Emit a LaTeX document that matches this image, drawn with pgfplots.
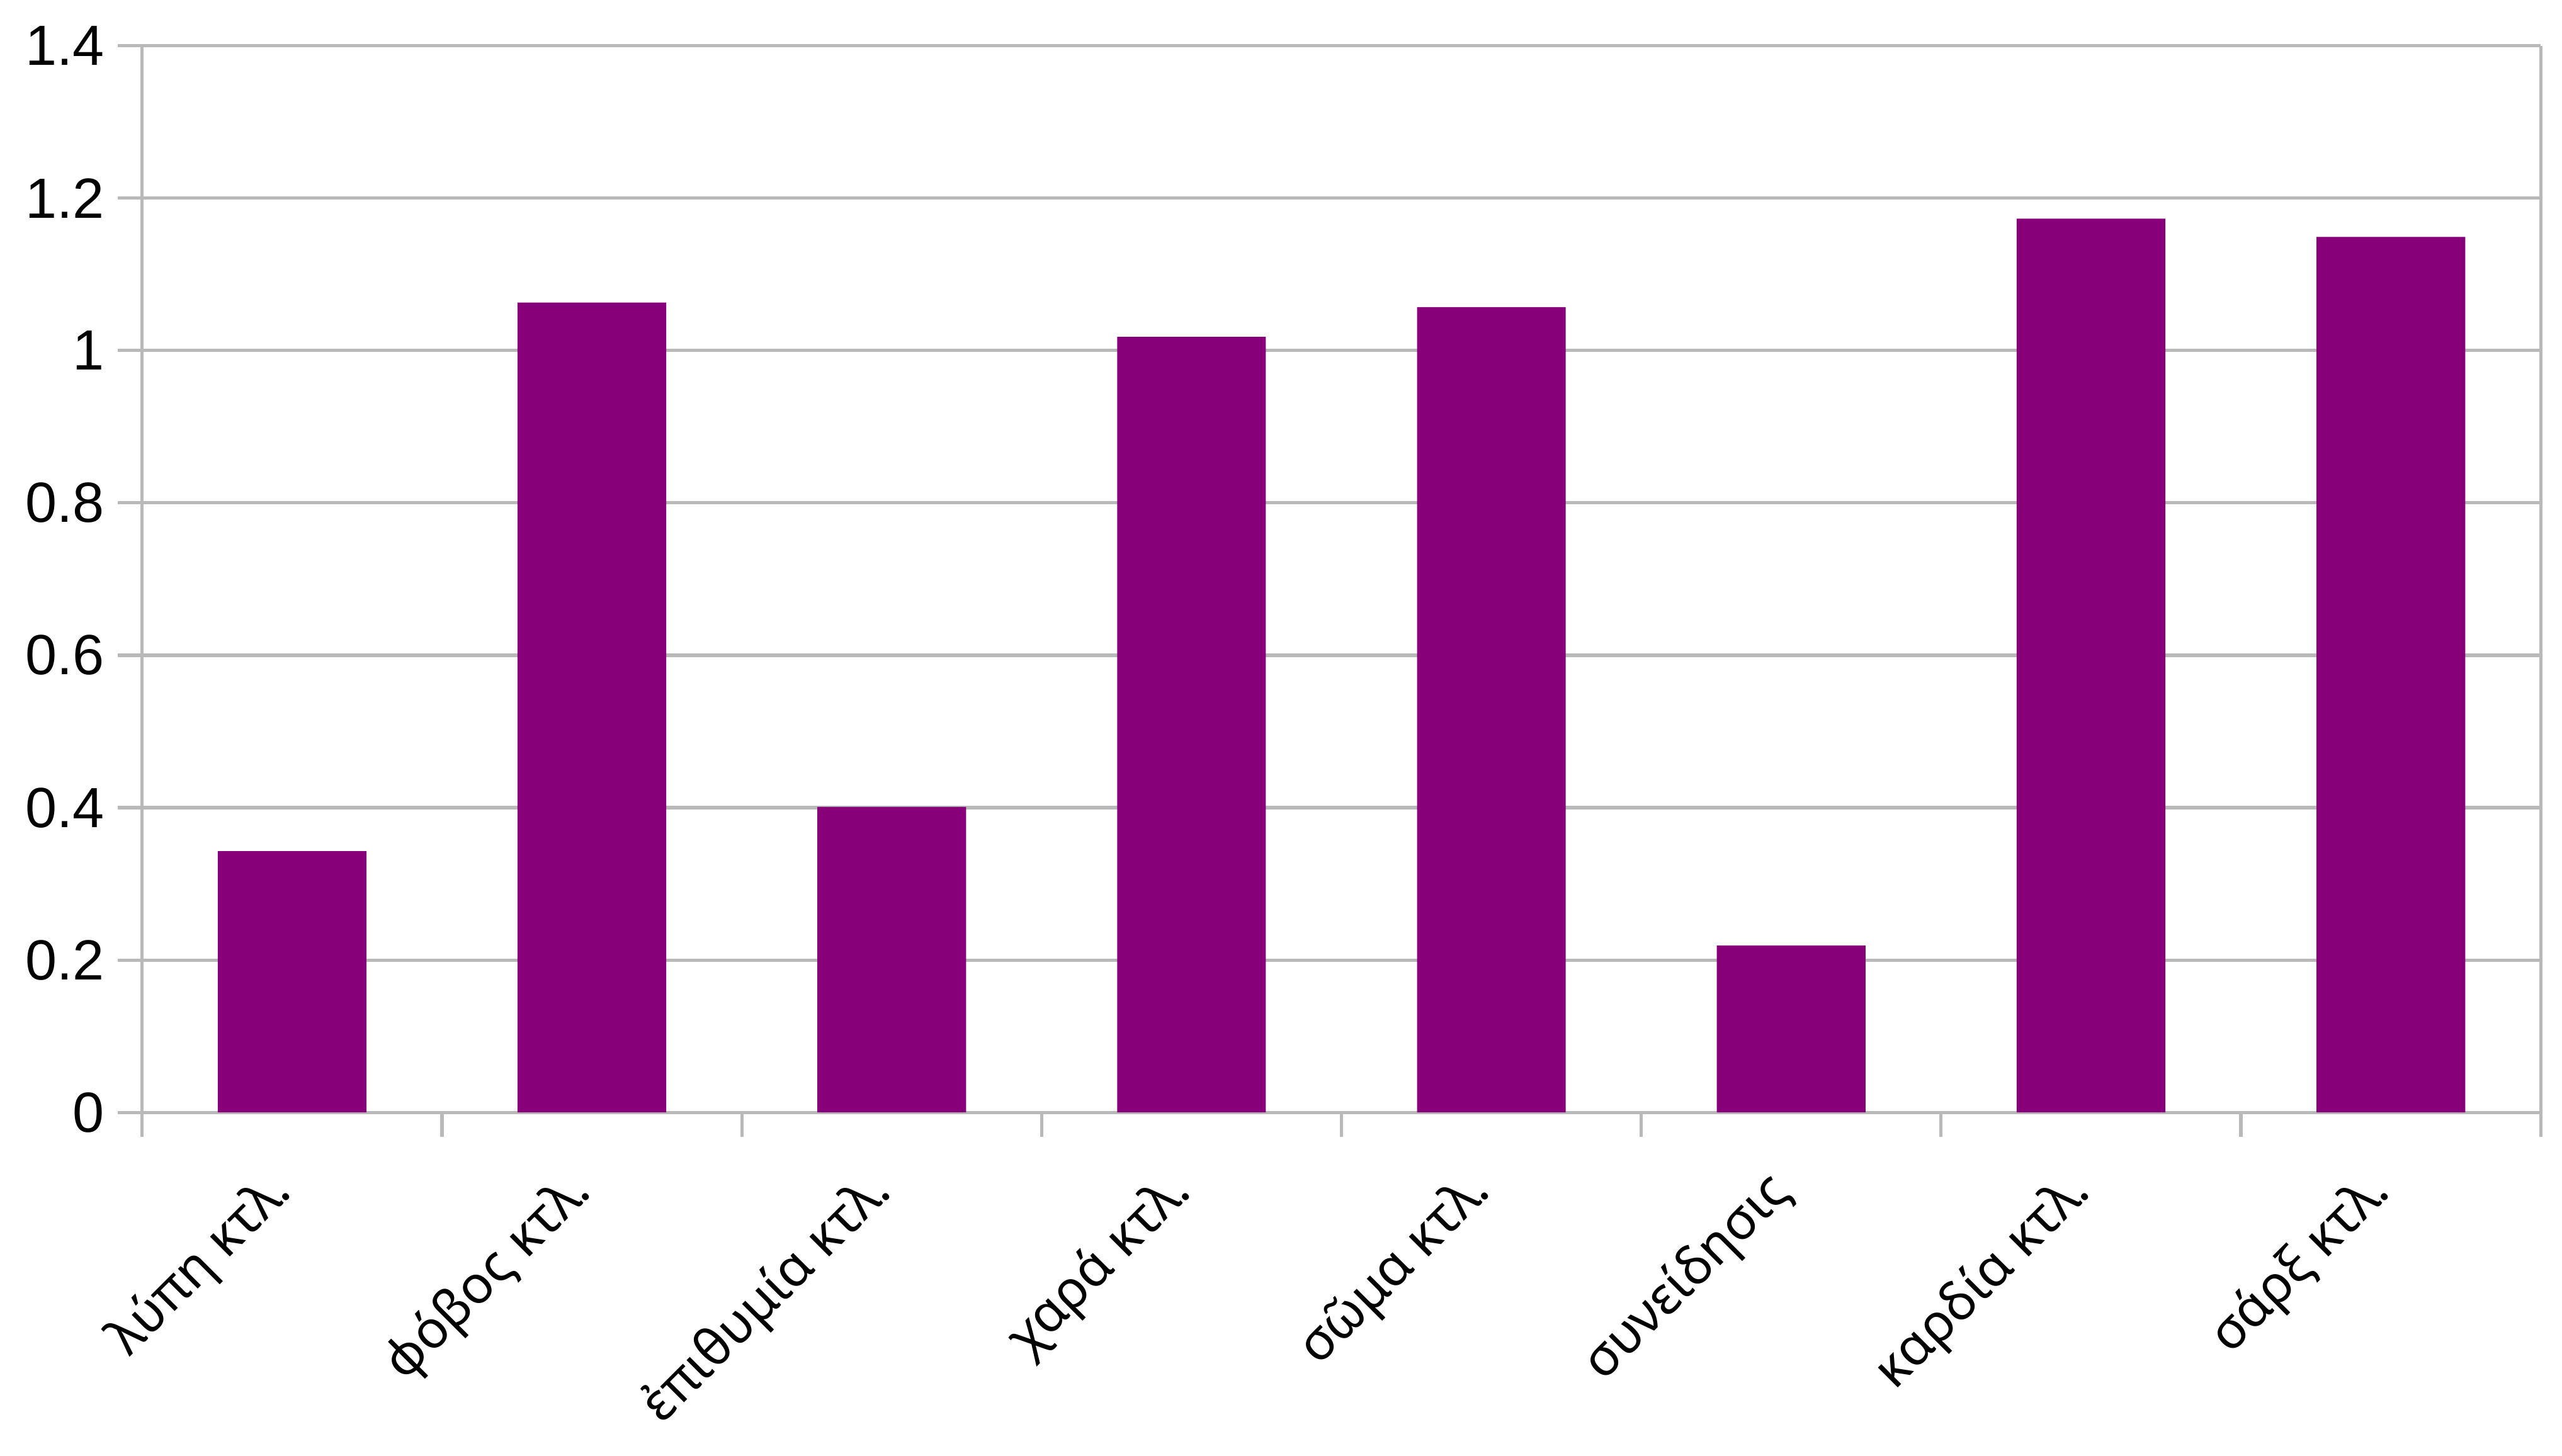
\documentclass[border=0pt]{standalone}
\usepackage{pgfplots}
\pgfplotsset{compat=1.18}
\usepackage{fontspec}
\setmainfont{Liberation Sans}
\newfontfamily\labelfont{Noto Sans}
\definecolor{barpurple}{RGB}{135,0,121}
\definecolor{gridgray}{RGB}{185,185,185}
\begin{document}
\begin{tikzpicture}
\fontsize{10.4}{12.5}\selectfont
\begin{axis}[
  width=440.4pt, height=195.9pt,
  scale only axis,
  xmin=-0.5, xmax=7.5,
  ymin=0, ymax=1.4,
  ytick={0,0.2,0.4,0.6,0.8,1,1.2,1.4},
  yticklabels={0,0.2,0.4,0.6,0.8,1,1.2,1.4},
  xtick={0,...,7},
  xticklabels={λύπη κτλ., φόβος κτλ., ἐπιθυμία κτλ., χαρά κτλ., σῶμα κτλ., συνείδησις, καρδία κτλ., σάρξ κτλ.},
  x tick label style={font=\labelfont\fontsize{9.6}{11.5}\selectfont, xshift=-5.1pt, yshift=-4.9pt, rotate=45, anchor=north east, inner sep=0pt},
  major x tick style={draw=none},
  minor xtick={-0.5,0.5,...,7.5},
  minor x tick style={draw=gridgray, line width=0.6pt},
  minor tick length=4.5pt,
  xtick align=outside,
  ytick align=outside,
  major tick length=4.5pt,
  y tick style={draw=gridgray, line width=0.6pt},
  ymajorgrids,
  major grid style={draw=gridgray, line width=0.6pt},
  axis line style={draw=gridgray, line width=0.6pt},
  axis x line*=bottom,
  axis y line*=left,
  separate axis lines,
  y tick label style={font=\fontsize{10.4}{12.5}\selectfont, inner sep=0pt, xshift=-2.3pt},
  ybar,
  bar width=27.3pt,
  clip=false,
]
\addplot[fill=barpurple, draw=none] coordinates {
  (0,0.343) (1,1.063) (2,0.401) (3,1.018) (4,1.057) (5,0.219) (6,1.173) (7,1.149)
};
\draw[gridgray, line width=0.6pt] (rel axis cs:1,0) -- (rel axis cs:1,1);
\path (rel axis cs:0,0) ++(-26.1pt,-63pt) coordinate (bbl);
\path (rel axis cs:1,1) ++(3.9pt,8.4pt) coordinate (btr);
\end{axis}
\pgfresetboundingbox
\path[use as bounding box] (bbl) rectangle (btr);
\end{tikzpicture}
\end{document}
